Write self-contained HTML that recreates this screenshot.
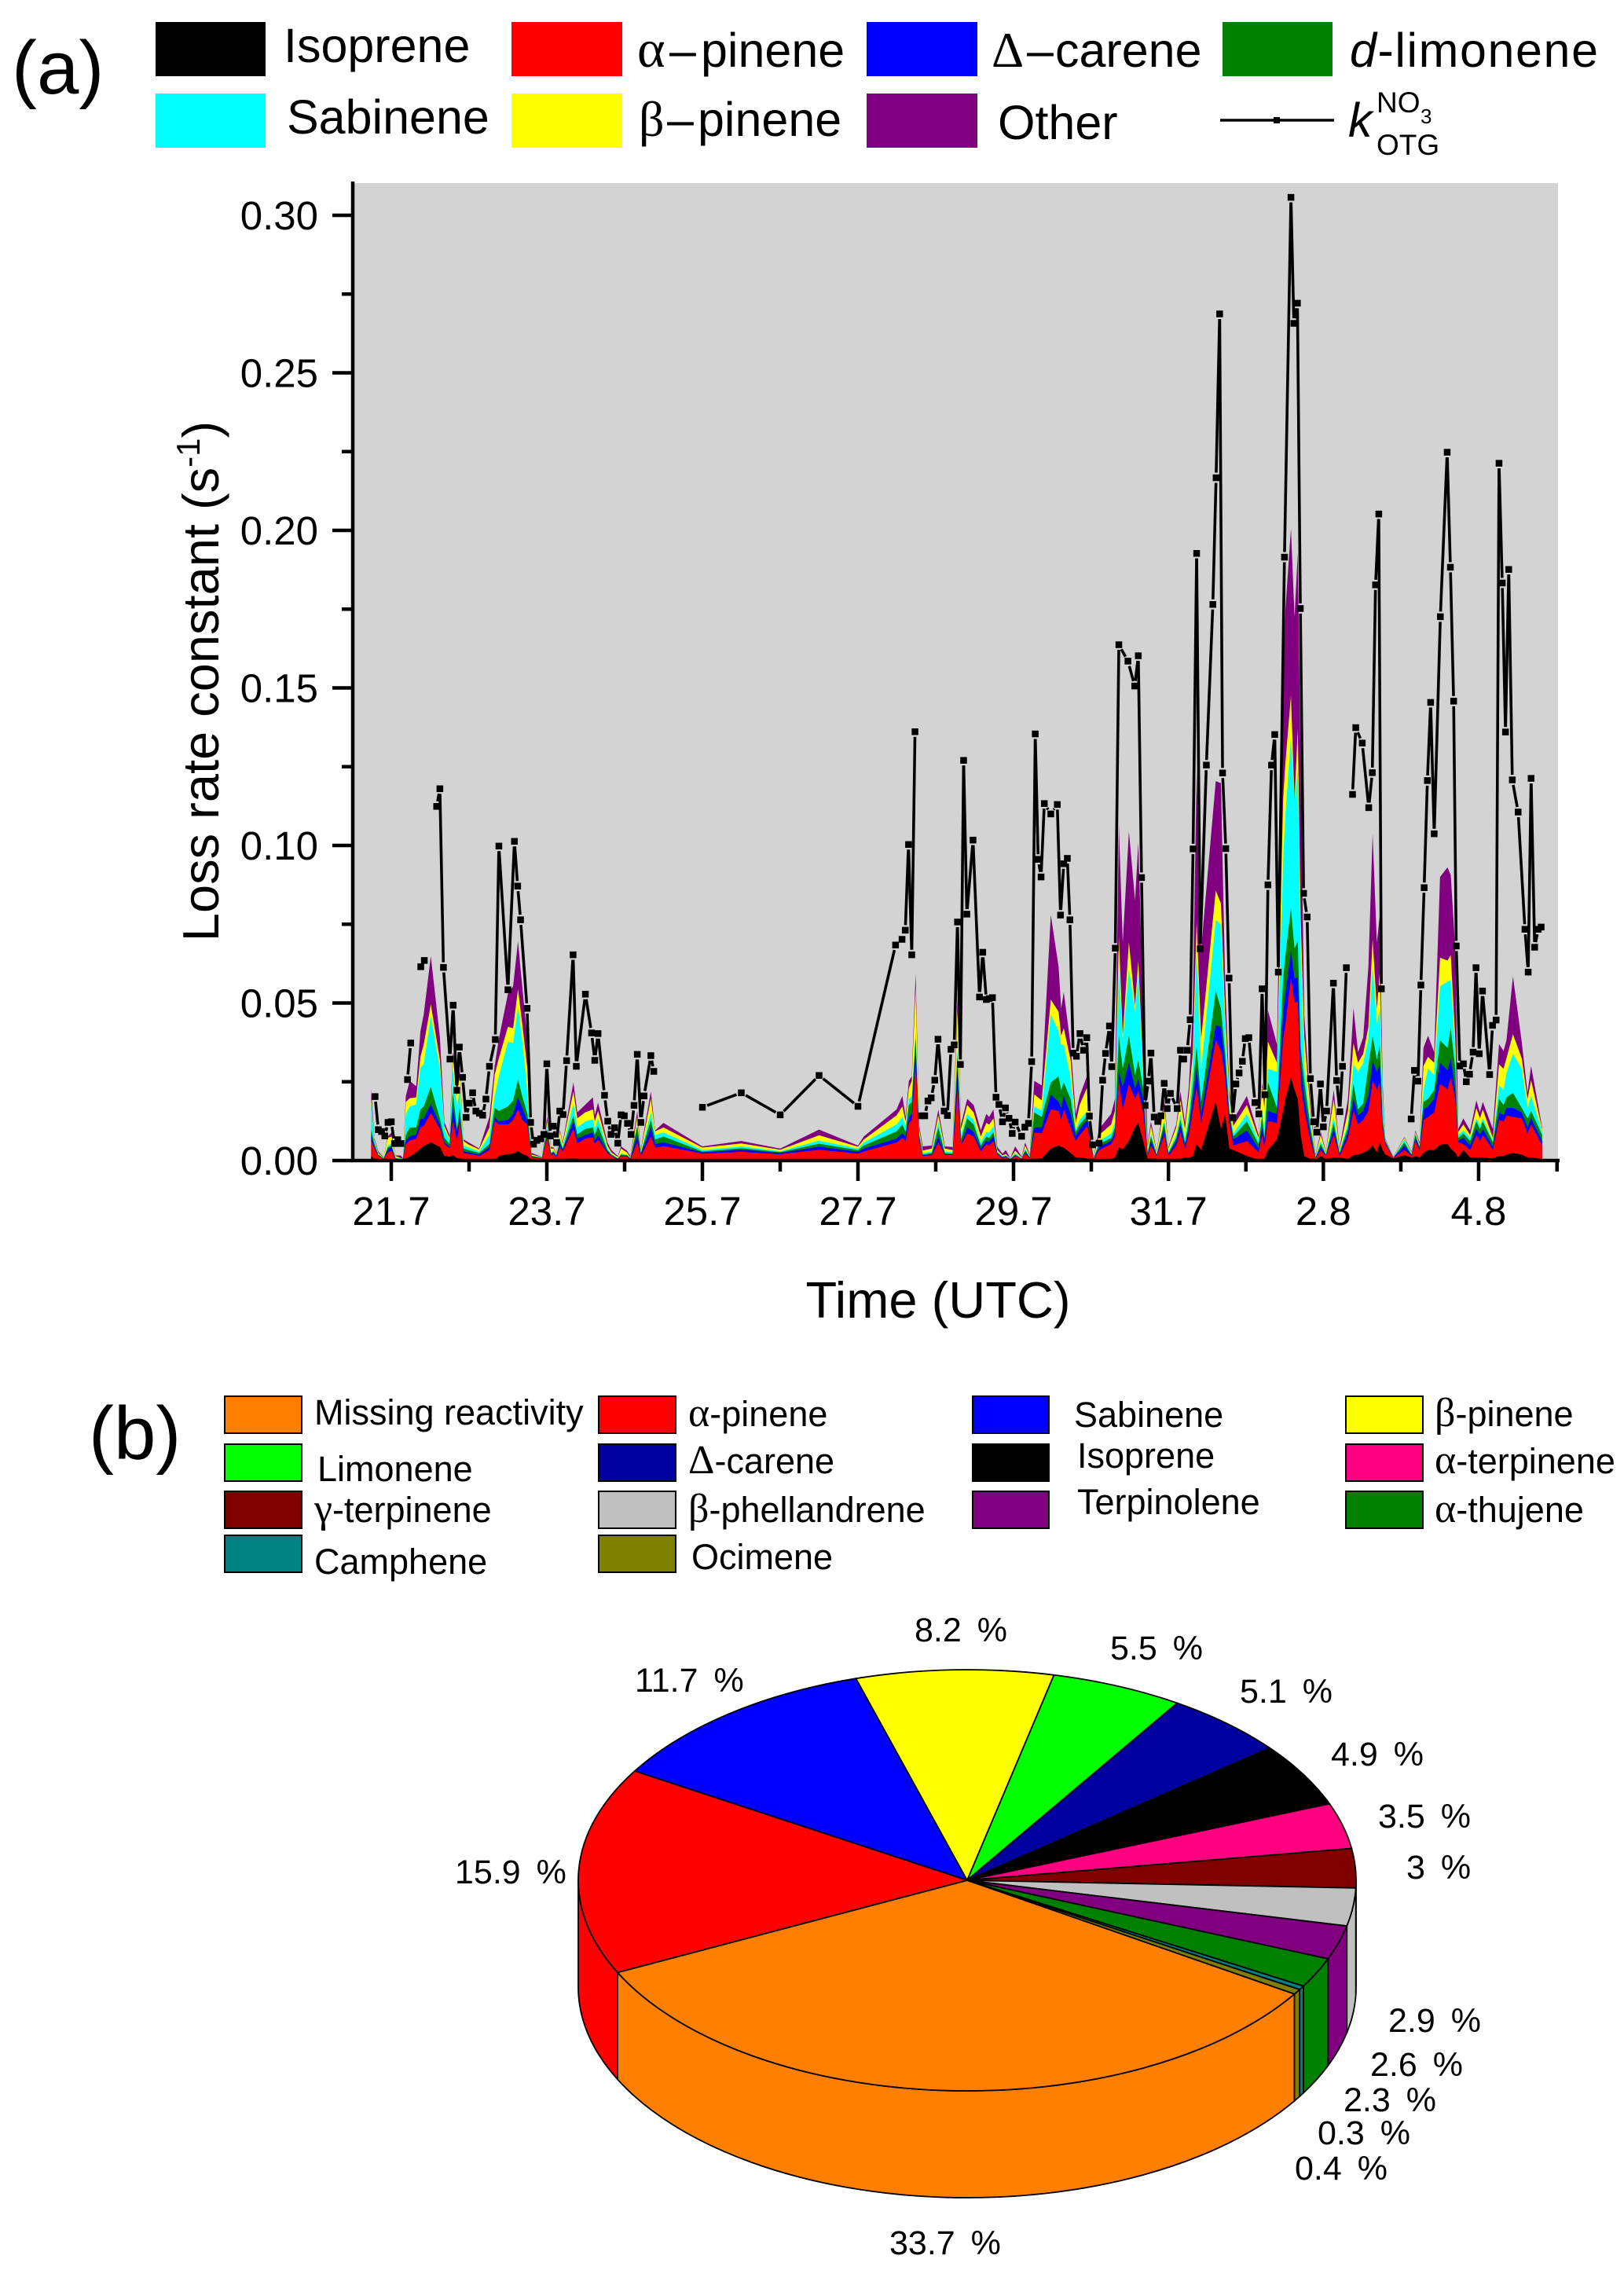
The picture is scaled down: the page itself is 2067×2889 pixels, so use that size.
<!DOCTYPE html>
<html lang="en">
<head>
<meta charset="utf-8">
<title>Loss rate constant and reactivity pie</title>
<style>
html,body{margin:0;padding:0;background:#fff}
svg{display:block}
text{font-family:"Liberation Sans",sans-serif;fill:#000}
.gr{font-family:"Liberation Serif",serif}
.la{font-size:61px}
.lb{font-size:45px}
.lb .gr{font-size:52px}
.tk{font-size:51px}
.pc{font-size:43px;word-spacing:8px}
</style>
</head>
<body>
<svg id="fig" xmlns="http://www.w3.org/2000/svg" width="2067" height="2889" viewBox="0 0 2067 2889">
<rect x="0" y="0" width="2067" height="2889" fill="#fff"/>
<text x="15" y="119" font-size="96">(a)</text>
<g>
<rect x="198" y="28" width="140" height="69" fill="#000"/>
<rect x="651" y="28" width="141" height="69" fill="#f00"/>
<rect x="1103" y="28" width="141" height="69" fill="#00f"/>
<rect x="1556" y="28" width="140" height="69" fill="#008000"/>
<rect x="198" y="119" width="140" height="69" fill="#0ff"/>
<rect x="651" y="119" width="141" height="69" fill="#ff0"/>
<rect x="1103" y="119" width="141" height="69" fill="#800080"/>
<text class="la" x="361" y="79">Isoprene</text>
<text class="la" y="85"><tspan class="gr" font-size="68" x="811">α</tspan><tspan x="852">–</tspan><tspan x="892">pinene</tspan></text>
<text class="la" y="85"><tspan class="gr" font-size="64" x="1262">Δ</tspan><tspan x="1307">–</tspan><tspan x="1343">carene</tspan></text>
<text class="la" x="1718" y="85" textLength="316" lengthAdjust="spacing"><tspan font-style="italic">d</tspan>-limonene</text>
<text class="la" x="365" y="170">Sabinene</text>
<text class="la" y="173"><tspan class="gr" font-size="64" x="813">β</tspan><tspan x="849">–</tspan><tspan x="888">pinene</tspan></text>
<text class="la" x="1270" y="177">Other</text>
<line x1="1553" y1="153" x2="1698" y2="153" stroke="#000" stroke-width="3.6"/>
<rect x="1621" y="149" width="8" height="8" fill="#000"/>
<text x="1716" y="174" font-size="61" font-style="italic">k</text>
<text x="1752" y="143" font-size="37">NO</text>
<text x="1808" y="157" font-size="26">3</text>
<text x="1752" y="197" font-size="37">OTG</text>
</g>
<rect id="plotBg" x="451" y="233" width="1532" height="1244" fill="#d3d3d3"/>
<g id="stack"></g>
<g id="kline"></g>
<g id="axes"></g>
<text transform="translate(278 867) rotate(-90)" text-anchor="middle" font-size="65">Loss rate constant (s<tspan font-size="42" dy="-24">-1</tspan><tspan dy="24">)</tspan></text>
<text x="1194" y="1677" text-anchor="middle" font-size="65">Time (UTC)</text>

<text x="113" y="1857" font-size="96">(b)</text>
<g stroke="#000" stroke-width="2">
<rect x="286" y="1777" width="98" height="47" fill="#ff8000"/>
<rect x="762" y="1777" width="98" height="47" fill="#f00"/>
<rect x="1238" y="1777" width="97" height="47" fill="#00f"/>
<rect x="1713" y="1777" width="98" height="47" fill="#ff0"/>
<rect x="286" y="1838" width="98" height="47" fill="#0f0"/>
<rect x="762" y="1838" width="98" height="47" fill="#0000a0"/>
<rect x="1238" y="1838" width="97" height="47" fill="#000"/>
<rect x="1713" y="1838" width="98" height="47" fill="#ff0080"/>
<rect x="286" y="1898" width="98" height="47" fill="#800000"/>
<rect x="762" y="1898" width="98" height="47" fill="#c0c0c0"/>
<rect x="1238" y="1898" width="97" height="47" fill="#800080"/>
<rect x="1713" y="1898" width="98" height="47" fill="#008000"/>
<rect x="286" y="1954" width="98" height="47" fill="#008080"/>
<rect x="762" y="1954" width="98" height="47" fill="#808000"/>
</g>
<g>
<text class="lb" x="400" y="1813">Missing reactivity</text>
<text class="lb" x="876" y="1815"><tspan class="gr">α</tspan>-pinene</text>
<text class="lb" x="1367" y="1816">Sabinene</text>
<text class="lb" x="1826" y="1815"><tspan class="gr">β</tspan>-pinene</text>
<text class="lb" x="404" y="1885">Limonene</text>
<text class="lb" x="876" y="1875"><tspan class="gr">Δ</tspan>-carene</text>
<text class="lb" x="1371" y="1868">Isoprene</text>
<text class="lb" x="1826" y="1875"><tspan class="gr">α</tspan>-terpinene</text>
<text class="lb" x="400" y="1937"><tspan class="gr">γ</tspan>-terpinene</text>
<text class="lb" x="876" y="1937"><tspan class="gr">β</tspan>-phellandrene</text>
<text class="lb" x="1371" y="1927">Terpinolene</text>
<text class="lb" x="1826" y="1937"><tspan class="gr">α</tspan>-thujene</text>
<text class="lb" x="400" y="2003">Camphene</text>
<text class="lb" x="880" y="1997">Ocimene</text>
</g>
<g id="pie"></g>
<g>
<text class="pc" x="1164" y="2089">8.2 %</text>
<text class="pc" x="1413" y="2112">5.5 %</text>
<text class="pc" x="1578" y="2167">5.1 %</text>
<text class="pc" x="1694" y="2247">4.9 %</text>
<text class="pc" x="1754" y="2326">3.5 %</text>
<text class="pc" x="1790" y="2391">3 %</text>
<text class="pc" x="1767" y="2586">2.9 %</text>
<text class="pc" x="1744" y="2642">2.6 %</text>
<text class="pc" x="1710" y="2687">2.3 %</text>
<text class="pc" x="1677" y="2729">0.3 %</text>
<text class="pc" x="1648" y="2774">0.4 %</text>
<text class="pc" x="808" y="2153">11.7 %</text>
<text class="pc" x="579" y="2397">15.9 %</text>
<text class="pc" x="1132" y="2869">33.7 %</text>
</g>
</svg>
<script>
// ---- Panel (a) data. Time is hours after the 21.7 tick. ----
const yTickLabels = ["0.00","0.05","0.10","0.15","0.20","0.25","0.30"];
const yTickValues = [0,0.05,0.10,0.15,0.20,0.25,0.30];
const yMinorValues = [0.025,0.075,0.125,0.175,0.225,0.275];
const xTickLabels = ["21.7","23.7","25.7","27.7","29.7","31.7","2.8","4.8"];
const xTickHours = [0,48,96,144,192,239.8,287.6,335.5];
const xMinorHours = [24,72,120,168,216,263.7,311.5,359.7];

const stackHours = [-6.2,-5.2,-4,-2.3,-1.1,.1,1.3,2.9,3.6,4.5,
5.7,7.7,9,10,12.2,15,16.4,18,19,20.3,
21.1,22.3,23.9,27.1,30.3,31.9,33.2,36,37.6,39.1,
40.4,42,43.3,46.5,48.1,49.3,50.1,50.9,52.1,52.9,
56.2,57.4,59.8,62.2,62.8,63.8,66.7,67.9,69.9,70.9,
72.7,73.8,75.9,77,80.1,81.4,84,96,108,120,
132,144,145.8,155.9,157.7,158.7,159.7,160.6,161.8,162.9,
164,166.8,168.8,170.8,173.2,174.7,175.8,177.7,179.7,181.9,
183.6,184.5,185.8,187,188.6,189.6,191,192.5,194.5,195.6,
197,198.4,200.7,203.5,205.9,206.7,207.5,209.6,211.2,212.4,
214.8,216.7,218.4,222.1,223.3,224.5,225.7,227.6,229.5,230.5,
232,233.4,234.4,236.2,238.5,239.8,242.2,243.5,244.9,246.1,
247.3,248.5,249.9,254.4,256,257.3,258.6,259.8,264,267.6,
268.7,269.4,270.5,273.3,275.2,275.9,277.6,278.7,279.7,280.6,
281.7,283.6,285.2,286.8,288.4,290.8,292.6,295.2,296.9,298.3,
299.9,301.5,302.8,304.1,305,305.9,306.7,309.2,312.6,314.8,
316,317.3,318.5,319.9,321.8,323.6,325.9,326.9,328.3,329.2,
330.8,332.9,334.8,335.9,336.8,339.9,341.8,343.2,344.1,346.1,
348.8,350.6,351.7,355.1];

// Species contributions, in units of 1/10480 s^-1.
const stackUnit = 1/10480;
const isoprene = [15,5,2,1,2,2,1,1,1,7,
13,27,40,48,60,45,15,13,18,8,
7,2,2,1,2,2,15,22,23,32,
22,15,2,1,1,1,1,1,1,1,
8,3,2,2,2,2,2,2,1,1,
1,1,1,1,1,1,3,2,2,2,
2,2,2,2,2,2,2,2,2,2,
2,2,2,2,2,2,2,2,2,2,
2,2,2,2,1,1,1,1,1,1,
1,5,7,40,50,45,43,25,10,10,
7,2,2,5,10,43,37,65,110,125,
65,5,7,5,5,5,5,7,10,10,
13,55,35,195,105,153,40,35,15,2,
5,5,35,70,165,205,277,235,205,85,
15,5,2,15,5,10,10,5,18,20,
25,35,50,27,60,35,20,7,18,10,
15,10,25,35,35,53,55,40,25,10,
35,10,10,10,10,7,15,15,20,25,
20,10,10,5];
const alphaPinene = [52,35,13,4,25,31,4,2,2,48,
54,46,70,67,98,60,40,27,112,57,
123,23,20,14,33,130,105,98,112,138,
113,105,8,6,74,14,22,9,44,29,
97,54,71,75,53,68,23,13,2,14,
12,4,59,14,79,41,45,21,27,19,
34,21,28,58,73,63,121,133,318,63,
13,16,58,16,16,235,48,88,78,28,
53,48,63,18,7,11,2,14,4,22,
6,88,83,130,115,90,127,85,55,75,
108,3,33,50,70,222,133,190,95,105,
95,10,43,10,80,10,45,88,30,75,
152,190,90,205,260,122,85,15,50,25,
80,40,95,55,240,250,330,290,325,170,
150,60,5,20,10,75,5,70,147,100,
110,130,215,208,200,70,35,1,17,5,
50,25,110,110,125,202,182,235,180,50,
20,25,75,55,75,28,120,115,130,120,
120,80,110,45];
const carene = [18,5,2,1,10,12,1,1,1,12,
13,14,27,25,29,15,5,5,45,30,
15,5,5,5,10,13,10,15,20,40,
40,10,2,1,10,5,4,5,10,5,
25,16,12,16,10,15,5,2,2,2,
2,2,25,5,30,13,12,4,7,4,
10,6,10,13,15,15,22,20,50,10,
3,2,20,2,2,68,5,20,15,10,
10,13,15,3,2,2,1,2,1,4,
2,17,20,50,30,40,45,45,15,20,
20,1,10,10,15,30,75,70,35,40,
45,3,15,3,20,5,15,25,10,20,
40,65,30,50,80,45,20,20,35,13,
25,20,35,30,90,100,90,80,80,70,
45,20,1,10,2,20,5,20,40,30,
30,50,65,60,60,10,5,1,15,2,
10,5,35,35,45,70,63,65,30,5,
20,15,20,20,20,10,25,20,25,30,
20,20,20,15];
const limonene = [18,10,3,1,6,5,2,1,1,18,
30,23,33,40,58,20,15,10,50,10,
30,10,8,5,10,30,35,45,45,60,
40,25,3,1,20,5,3,2,10,5,
20,14,20,17,20,30,5,3,2,3,
3,1,30,5,25,15,20,3,5,3,
10,6,10,24,30,15,40,40,40,10,
2,5,30,5,3,50,15,30,25,10,
15,12,15,4,2,2,1,3,1,8,
2,50,35,40,85,60,45,50,15,15,
15,1,10,10,15,120,60,90,45,65,
35,7,15,2,20,5,10,15,10,25,
40,70,40,115,60,35,15,10,30,15,
35,10,95,20,110,130,143,100,120,50,
55,25,2,10,3,20,5,15,50,20,
25,100,85,40,65,20,5,1,10,3,
10,5,25,25,30,75,75,100,70,10,
15,15,25,20,25,15,45,35,35,50,
15,30,25,20];
const sabinene = [87,10,2,1,7,7,2,1,1,70,
70,77,140,140,235,165,30,10,80,70,
70,10,8,5,30,40,115,215,190,240,
185,70,2,1,10,2,3,3,10,5,
40,23,25,27,20,25,5,2,1,3,
2,1,5,2,25,15,13,5,6,3,
10,5,10,23,25,20,20,20,20,5,
5,5,20,5,4,20,15,15,15,10,
15,18,20,3,2,2,1,5,1,5,
2,20,20,225,150,150,125,70,5,15,
15,1,10,15,15,225,90,222,210,285,
35,5,10,2,10,5,10,20,15,30,
60,325,110,235,280,70,25,10,25,10,
20,30,45,120,400,470,565,490,570,330,
50,15,5,10,3,20,5,15,65,125,
135,90,230,120,120,70,2,1,10,3,
5,5,40,100,50,180,220,160,50,10,
10,10,10,10,10,5,45,50,80,130,
130,35,50,10];
const betaPinene = [15,5,3,1,25,23,5,2,1,40,
27,23,35,65,40,30,10,10,35,40,
45,15,10,7,25,70,60,50,50,60,
55,80,3,1,15,13,7,3,20,10,
40,30,30,33,25,25,10,5,4,17,
7,2,25,6,45,12,17,8,10,5,
18,6,10,30,35,15,35,50,145,15,
8,10,20,10,8,125,20,30,25,20,
30,27,25,5,3,4,1,8,2,10,
2,40,35,50,65,30,55,60,25,50,
80,1,20,30,40,105,20,90,20,45,
30,15,25,5,50,10,25,45,30,55,
50,90,100,98,70,63,30,25,30,10,
80,70,90,30,200,170,142,0,135,100,
100,40,2,20,4,60,5,40,70,30,
30,40,92,50,120,20,3,1,5,4,
5,5,80,40,40,95,70,83,50,10,
20,10,35,25,30,10,70,70,50,65,
35,30,52,10];
const otherSpecies = [32,5,5,1,5,13,2,9,1,20,
58,37,85,100,160,75,12,10,20,90,
15,5,7,3,35,30,65,110,140,160,
125,100,5,1,17,5,3,2,5,5,
30,20,25,40,20,28,10,8,3,7,
6,4,20,4,25,3,15,4,8,4,
19,4,10,20,35,15,25,15,48,10,
14,10,20,7,10,45,15,20,25,20,
30,25,30,10,6,13,1,14,3,10,
4,45,50,282,150,90,120,50,30,30,
40,1,20,35,40,372,310,368,350,393,
200,10,15,3,20,5,10,30,20,30,
150,500,300,364,400,102,20,20,30,10,
15,30,105,60,400,510,556,612,586,500,
70,20,3,10,3,30,5,40,118,35,
55,200,350,220,190,30,3,1,3,3,
5,5,60,70,35,268,310,267,300,10,
20,15,25,20,25,30,67,60,60,193,
55,20,48,5];

// k(NO3,OTG) series in s^-1; null marks a data gap.
const lineHours = [-5,-4,-3,-2,-1,0,1,2,3,4,
5,6,7.5,9.1,10.2,12,14,15,16.1,18.1,
19.1,20.2,21,22,23.1,24.1,25.1,26.1,27.2,28.2,
29.2,30.3,32.1,33.2,36,38,39,39.9,41.9,43,
43.9,44.9,46.1,47.1,48,49.1,50,51,52,53,
54.1,56.1,57.1,59.9,61.8,62.8,63.8,65.8,66.8,67.8,
68.9,69.9,70.9,71.9,72.9,74,74.9,75.9,77,78,
80.1,81,90,96,108,120,132,144,155.6,157.6,
158.6,159.6,160.6,161.6,162.6,163.6,164.6,165.6,166.6,167.7,
168.7,170.6,171.6,172.7,173.7,174.7,175.6,176.6,177.6,179.5,
181.5,182.5,183.6,184.5,185.5,186.6,187.5,188.6,189.5,190.6,
191.6,192.5,194.5,195.5,196.6,197.6,198.7,199.6,200.5,201.5,
203.5,205.5,206.5,207.5,208.6,209.4,210.4,211.4,212.5,213.6,
214.6,215.4,216.4,218.4,219.5,220.4,221.6,222.3,223.4,224.5,
227.3,229.4,230.5,231.5,232.6,233.6,234.4,235.4,236.5,237.5,
238.5,239.4,240.4,242.5,243.5,244.5,245.6,246.5,247.4,248.5,
249.6,251.5,253.5,254.5,255.6,256.5,257.5,258.5,259.6,260.6,
261.6,262.6,263.5,264.6,266.5,267.7,268.7,269.6,270.5,271.6,
272.6,273.7,275.6,277.6,278.5,279.6,280.5,281.5,282.6,283.6,
284.6,285.6,286.7,287.6,288.6,290.7,291.7,292.7,293.5,294.7,
295.6,296.6,297.6,299.6,301.6,302.7,303.7,304.7,305.5,310,
314.7,315.7,316.8,317.7,318.7,319.7,320.7,321.8,323.7,325.8,
326.8,327.8,328.6,329.7,330.8,331.7,332.7,333.8,334.7,335.7,
336.7,338.9,339.8,340.9,341.8,342.8,343.8,344.8,345.9,347.7,
349.8,350.8,351.7,352.8,353.9,354.8];
const lineValues = [.0203,.0098,.0092,.0078,.0121,.0123,.0054,.0066,.0054,null,
.0257,.0373,null,.0615,.0635,null,.1124,.118,.0613,.0322,
.0493,.0223,.036,.0264,.0137,.0182,.0215,.0157,.015,.0144,
.0195,.0299,.0384,.0998,.0542,.1013,.0871,.0764,.0483,.0121,
.0052,.0064,.0069,.0083,.0307,.0078,.0109,.0057,.0157,.0146,
.0317,.0653,.0299,.0528,.0405,.0318,.0403,.0207,.0125,.0083,
.0104,.0055,.0145,.0142,.0118,.0083,.0175,.0337,.0121,.0205,
.0333,.0283,null,.0169,.0215,.0145,.027,.0172,.0684,.0702,
.0731,.1003,.0653,.1361,null,.0142,.0142,.0189,.0199,.0255,
.0385,.0157,.0143,.0353,.0367,.0757,.0305,.127,.0782,.1017,
.0519,.0661,.0511,.0514,.0517,.0201,.0178,.0123,.0167,.0134,
.0086,.0122,.0077,.0106,.0118,.0314,.1354,.0956,.09,.1133,
.11,.113,.0779,.0942,.0959,.0764,.0341,.0331,.0403,.035,
.039,.0141,.005,.0055,.0255,.034,.0427,.0298,.0674,.1637,
.1585,.1506,.1602,.0898,.0175,.0252,.0341,.0138,.0124,.0142,
.0245,.0165,.0213,.0165,.035,.0322,.035,.0447,.0989,.1927,
.0672,.1255,.1765,.2167,.2687,.123,.099,.0579,.0136,.0243,
.0278,.0315,.0387,.039,.0184,.0148,.0545,.0209,.0875,.1255,
.1352,.0598,.1915,.3057,.2657,.2721,.1752,.0848,.0773,.026,
.0123,.009,.0243,.0107,.0157,.0563,.0254,.0155,.0299,.0612,
null,.1162,.1374,.1325,.112,.1231,.1827,.2052,.0545,null,
.0132,.0286,.0252,.0557,.0866,.1206,.1454,.1037,.1726,.2248,
.1883,.1458,.0681,.03,.0307,.025,.0274,.0344,.0612,.0339,
.0538,.0273,.0429,.0446,.2213,.1833,.136,.1876,.1208,.1106,
.0734,.0598,.1213,.0677,.0734,.0741];

// ---- Panel (b) data ----
const pieNames = ["Missing reactivity","α-pinene","Sabinene","β-pinene","Limonene","Δ-carene","Isoprene","α-terpinene","γ-terpinene","β-phellandrene","Terpinolene","α-thujene","Camphene","Ocimene"];
const pieValues = [33.7,15.9,11.7,8.2,5.5,5.1,4.9,3.5,3,2.9,2.6,2.3,0.3,0.4];
const pieColors = ["#ff8000","#ff0000","#0000ff","#ffff00","#00ff00","#0000a0","#000000","#ff0080","#800000","#c0c0c0","#800080","#008000","#008080","#808000"];

const NS = "http://www.w3.org/2000/svg";
function mk(tag, parent, attrs) {
  const el = document.createElementNS(NS, tag);
  for (const k in attrs) el.setAttribute(k, attrs[k]);
  parent.appendChild(el);
  return el;
}
const xPx = function (h) { return 498 + 4.125 * h; };
const yPx = function (v) { return 1477 - 4010 * v; };
const round2 = function (n) { return Math.round(n * 100) / 100; };

// Stacked areas: drawn top species first, each reaching down to the axis.
const stackSeries = [
  { key: "isoprene", vals: isoprene, color: "#000000" },
  { key: "alpha-pinene", vals: alphaPinene, color: "#ff0000" },
  { key: "carene", vals: carene, color: "#0000ff" },
  { key: "limonene", vals: limonene, color: "#008000" },
  { key: "sabinene", vals: sabinene, color: "#00ffff" },
  { key: "beta-pinene", vals: betaPinene, color: "#ffff00" },
  { key: "other", vals: otherSpecies, color: "#800080" }
];
(function () {
  const host = document.getElementById("stack");
  const n = stackHours.length;
  const cumul = [];
  let running = new Array(n).fill(0);
  stackSeries.forEach(function (s) {
    running = running.map(function (r, i) { return r + (s.vals[i] || 0); });
    cumul.push(running);
  });
  for (let k = stackSeries.length - 1; k >= 0; k--) {
    let d = "M" + round2(xPx(stackHours[0])) + " " + yPx(0);
    for (let i = 0; i < n; i++) {
      d += "L" + round2(xPx(stackHours[i])) + " " + round2(yPx(cumul[k][i] * stackUnit));
    }
    d += "L" + round2(xPx(stackHours[n - 1])) + " " + yPx(0) + "Z";
    const el = mk("path", host, { d: d, fill: stackSeries[k].color });
    
    
  }
})();

// k line with symbol gaps, then the square markers.
(function () {
  const host = document.getElementById("kline");
  const gap = 6.5;
  for (let i = 0; i < lineHours.length - 1; i++) {
    if (lineValues[i] === null || lineValues[i + 1] === null) continue;
    const x1 = xPx(lineHours[i]), y1 = yPx(lineValues[i]);
    const x2 = xPx(lineHours[i + 1]), y2 = yPx(lineValues[i + 1]);
    const len = Math.hypot(x2 - x1, y2 - y1);
    if (len <= 2 * gap) continue;
    const ux = (x2 - x1) / len, uy = (y2 - y1) / len;
    const seg = mk("line", host, {
      x1: round2(x1 + ux * gap), y1: round2(y1 + uy * gap),
      x2: round2(x2 - ux * gap), y2: round2(y2 - uy * gap),
      stroke: "#000", "stroke-width": 3.6
    });
    
    
  }
  for (let i = 0; i < lineHours.length; i++) {
    if (lineValues[i] === null) continue;
    const m = mk("rect", host, {
      x: round2(xPx(lineHours[i]) - 4.25), y: round2(yPx(lineValues[i]) - 4.25),
      width: 8.5, height: 8.5, fill: "#000"
    });
    
    
  }
})();

// Axes
(function () {
  const host = document.getElementById("axes");
  const stroke = { stroke: "#000", "stroke-width": 4.5 };
  const yAxis = mk("line", host, Object.assign({ x1: 449, y1: 231, x2: 449, y2: 1479 }, stroke));
  
  
  const xAxis = mk("line", host, Object.assign({ x1: 447, y1: 1477, x2: 1985, y2: 1477 }, stroke));
  
  
  yTickValues.forEach(function (v, i) {
    const t = mk("line", host, Object.assign({ x1: 423, y1: yPx(v), x2: 449, y2: yPx(v) }, stroke));
    
    
    const lab = mk("text", host, { x: 405, y: yPx(v) + 18, "text-anchor": "end", "class": "tk" });
    lab.textContent = yTickLabels[i];
    
    
  });
  yMinorValues.forEach(function (v) {
    const t = mk("line", host, Object.assign({ x1: 435, y1: yPx(v), x2: 449, y2: yPx(v) }, stroke));
    
    
  });
  xTickHours.forEach(function (h, i) {
    const t = mk("line", host, Object.assign({ x1: xPx(h), y1: 1477, x2: xPx(h), y2: 1503 }, stroke));
    
    
    const lab = mk("text", host, { x: xPx(h), y: 1559, "text-anchor": "middle", "class": "tk" });
    lab.textContent = xTickLabels[i];
    
    
  });
  xMinorHours.forEach(function (h) {
    const t = mk("line", host, Object.assign({ x1: xPx(h), y1: 1477, x2: xPx(h), y2: 1491 }, stroke));
    
    
  });
})();

// 3-D pie
(function () {
  const host = document.getElementById("pie");
  const cx = 1231, cy = 2393, rx = 495, ry = 268, depth = 136, startDeg = 32.7;
  const total = pieValues.reduce(function (a, b) { return a + b; }, 0);
  const pt = function (deg) {
    const r = deg * Math.PI / 180;
    return [round2(cx + rx * Math.cos(r)), round2(cy + ry * Math.sin(r))];
  };
  const slices = [];
  let a = startDeg;
  pieValues.forEach(function (v, i) {
    const b = a + v / total * 360;
    slices.push({ a: a, b: b, i: i });
    a = b;
  });
  const sideRanges = [[0, 180], [360, 540]];
  slices.forEach(function (s) {
    sideRanges.forEach(function (rg) {
      const a0 = Math.max(s.a, rg[0]), b0 = Math.min(s.b, rg[1]);
      if (b0 <= a0) return;
      const p = pt(a0), q = pt(b0);
      const d = "M" + p[0] + " " + p[1] + "A" + rx + " " + ry + " 0 0 1 " + q[0] + " " + q[1] +
        "L" + q[0] + " " + (q[1] + depth) + "A" + rx + " " + ry + " 0 0 0 " + p[0] + " " + (p[1] + depth) + "Z";
      const el = mk("path", host, { d: d, fill: pieColors[s.i], stroke: "#000", "stroke-width": 1.8, "stroke-linejoin": "round" });
      
      
    });
  });
  slices.forEach(function (s) {
    const p = pt(s.a), q = pt(s.b);
    const large = (s.b - s.a) > 180 ? 1 : 0;
    const d = "M" + cx + " " + cy + "L" + p[0] + " " + p[1] + "A" + rx + " " + ry + " 0 " + large + " 1 " + q[0] + " " + q[1] + "Z";
    const el = mk("path", host, { d: d, fill: pieColors[s.i], stroke: "#000", "stroke-width": 1.8, "stroke-linejoin": "round" });
    
    
    const tip = mk("title", el, {});
    tip.textContent = pieNames[s.i] + " " + pieValues[s.i] + " %";
  });
})();
</script>
</body>
</html>
